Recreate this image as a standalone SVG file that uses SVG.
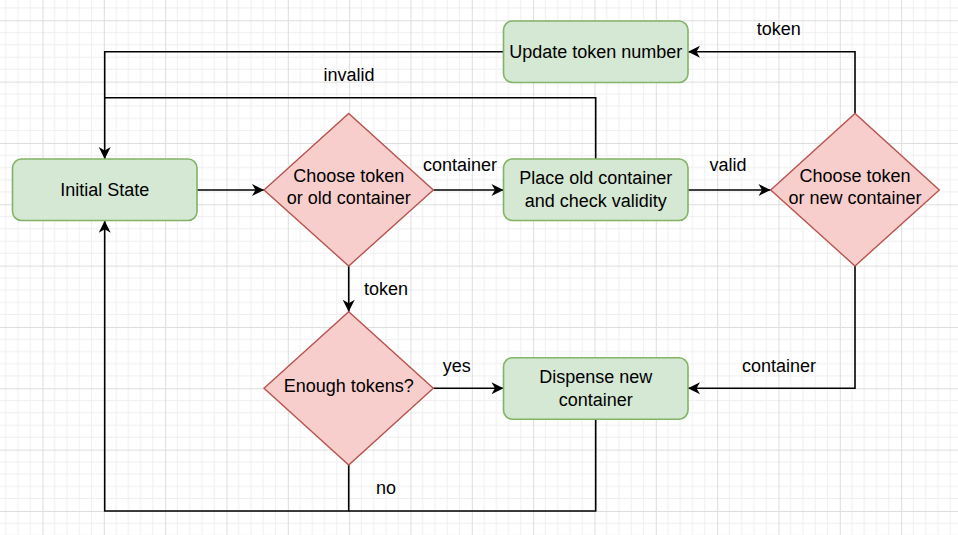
<svg xmlns="http://www.w3.org/2000/svg" width="958" height="535" viewBox="0 0 958 535">
<defs>
<pattern id="grid" patternUnits="userSpaceOnUse" x="42.5" y="20.3" width="61.33" height="61.33">
<g stroke="#efefef" stroke-width="1">
<line x1="12.27" y1="0" x2="12.27" y2="61.33"/>
<line x1="24.53" y1="0" x2="24.53" y2="61.33"/>
<line x1="36.8" y1="0" x2="36.8" y2="61.33"/>
<line x1="49.07" y1="0" x2="49.07" y2="61.33"/>
<line y1="12.27" x1="0" y2="12.27" x2="61.33"/>
<line y1="24.53" x1="0" y2="24.53" x2="61.33"/>
<line y1="36.8" x1="0" y2="36.8" x2="61.33"/>
<line y1="49.07" x1="0" y2="49.07" x2="61.33"/>
</g>
<g stroke="#dddddd" stroke-width="1">
<line x1="0.5" y1="0" x2="0.5" y2="61.33"/>
<line y1="0.5" x1="0" y2="0.5" x2="61.33"/>
</g>
</pattern>
<marker id="arr" markerUnits="userSpaceOnUse" markerWidth="13" markerHeight="13" refX="12" refY="6" orient="auto" overflow="visible">
<path d="M0,0 L12,6 L0,12 L3.5,6 Z" fill="#000"/>
</marker>
</defs>
<style>
.box{fill:#d5e8d4;stroke:#82b366;stroke-width:1.6}
.dia{fill:#f8cecc;stroke:#b85450;stroke-width:1.4}
.t{font-family:"Liberation Sans",Helvetica,Arial,sans-serif;font-size:18px;fill:#000;text-anchor:middle}
.e{fill:none;stroke:#000;stroke-width:1.6}
.a{marker-end:url(#arr)}
</style>
<rect width="958" height="535" fill="#fff"/>
<rect width="958" height="535" fill="url(#grid)"/>
<g id="connectors">
<path class="e a" d="M197,190 H264"/>
<path class="e a" d="M433.5,190 H503.5"/>
<path class="e a" d="M688,190 H770.5"/>
<path class="e a" d="M855,113.5 V51.7 H688"/>
<path class="e a" d="M503.5,51.7 H104.7 V159"/>
<path class="e" d="M595.7,159 V97.7 H104.7"/>
<path class="e a" d="M855,266 V388.3 H688"/>
<path class="e a" d="M348.7,266 V311.7"/>
<path class="e a" d="M433.3,388.3 H503.5"/>
<path class="e a" d="M348.7,465 V511 H104.7 V220.7"/>
<path class="e" d="M595.7,419.3 V511 H348.7"/>
<text class="t" x="349" y="81">invalid</text>
<text class="t" x="460" y="171">container</text>
<text class="t" x="728" y="171">valid</text>
<text class="t" x="778.7" y="35">token</text>
<text class="t" x="779" y="372">container</text>
<text class="t" x="386" y="295">token</text>
<text class="t" x="456.7" y="372">yes</text>
<text class="t" x="386" y="494">no</text>
</g>
<g id="initial">
<rect class="box" x="12.5" y="159" width="184.5" height="61.5" rx="9"/>
<text class="t" x="104.7" y="196">Initial State</text>
</g>
<g id="choose-old">
<polygon class="dia" points="264,190 348.7,113.5 433.3,190 348.7,266"/>
<text class="t" x="348.7" y="182">Choose token</text>
<text class="t" x="348.7" y="204">or old container</text>
</g>
<g id="place">
<rect class="box" x="503.5" y="159" width="184.5" height="61.5" rx="9"/>
<text class="t" x="595.7" y="184.3">Place old container</text>
<text class="t" x="595.7" y="206.7">and check validity</text>
</g>
<g id="update">
<rect class="box" x="503.5" y="21" width="184.5" height="61.5" rx="9"/>
<text class="t" x="595.7" y="58">Update token number</text>
</g>
<g id="choose-new">
<polygon class="dia" points="770.7,190 855,113.5 939.3,190 855,266"/>
<text class="t" x="855" y="182">Choose token</text>
<text class="t" x="855" y="204">or new container</text>
</g>
<g id="enough">
<polygon class="dia" points="264,388.3 348.7,311.7 433.3,388.3 348.7,465"/>
<text class="t" x="348.7" y="391.7">Enough tokens?</text>
</g>
<g id="dispense">
<rect class="box" x="503.5" y="357.7" width="184.5" height="61.5" rx="9"/>
<text class="t" x="595.7" y="383.3">Dispense new</text>
<text class="t" x="595.7" y="405.7">container</text>
</g>
</svg>
